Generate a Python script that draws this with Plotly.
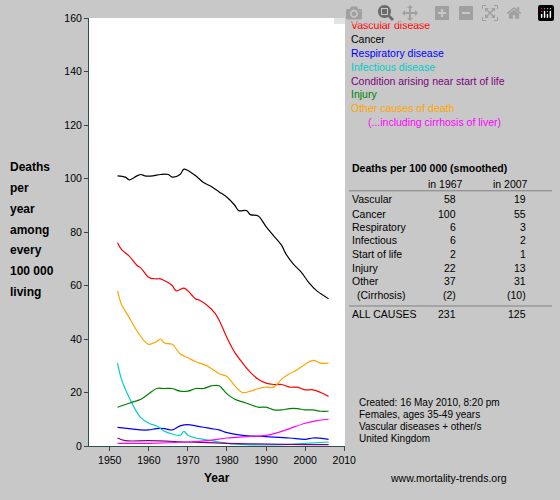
import plotly.graph_objects as go

cancer_x = [1952,1954,1955,1957,1958,1959,1961,1963,1965,1966,1968,1969,1970,1972,1974,1976,1978,1980,1982,1983,1985,1986,1988,1990,1992,1994,1995,1997,1999,2001,2003,2005,2006]
cancer_y = [101,100.5,99.5,101,101.5,101,101,101.5,101.5,100.5,101.5,103.5,103,101,98.5,97,95,93,90,88,88,86.5,86,82,78.5,75,72,68,65,61,58,56,55]
vasc_x = [1952,1953,1955,1957,1958,1960,1962,1963,1965,1966,1967,1969,1970,1972,1973,1975,1977,1978,1980,1982,1984,1986,1988,1990,1992,1994,1996,1998,2000,2002,2004,2006]
vasc_y = [76,73.5,71,67.5,66.5,63,62.5,62.5,61,60,58,59,58,55,54.5,52.5,49.5,47,40.5,35,31,27.5,25,23.5,23,23,22,22,21,21,20,18.5]
other_x = [1952,1953,1955,1957,1959,1960,1962,1963,1964,1966,1968,1970,1972,1974,1976,1978,1980,1982,1984,1986,1988,1990,1992,1994,1996,1998,2000,2002,2004,2006]
other_y = [58,53,48,43,39,38,39,40,38.5,38,34.5,33,31.5,30.5,29,27,26,22.5,20,20.5,21.5,22,22,25,27,28.5,30.5,32,31,31]
inj_x = [1952,1954,1956,1958,1960,1962,1964,1966,1968,1970,1972,1974,1976,1978,1980,1982,1984,1986,1988,1990,1992,1994,1996,1998,2000,2002,2004,2006]
inj_y = [14.5,15.5,16.5,17.5,19.5,21.5,21.5,21.5,20.5,20.5,21.5,21.5,22.5,22.5,19.5,17.5,16.5,15.5,14.5,14.5,13.5,13.5,14,14,13.5,13.5,13,13]
inf_x = [1952,1953,1955,1957,1958,1960,1962,1964,1966,1968,1969,1970,1972,1974,1976,1978,1980,1985,1995,2000,2006]
inf_y = [31,25,18,12.5,10.5,8.5,7.5,5.5,4.5,4,5.5,4,3,2.5,2,1.5,1,0.5,0.5,1,1.5]
resp_x = [1952,1955,1958,1960,1962,1964,1966,1968,1970,1972,1974,1976,1978,1980,1984,1990,1996,2000,2002,2006]
resp_y = [7,6.5,6,6,6.5,6.5,6,7.5,8,7.5,7,6.5,6,5,4,3.5,3,2.5,3,2.5]
sol_x = [1952,1954,1960,1970,1980,2006]
sol_y = [3,2,2,1.5,1,0.5]
cirr_x = [1952,1960,1970,1975,1980,1985,1990,1993,1996,2000,2003,2006]
cirr_y = [1,1,1.5,2,3,3.5,4,5,6.5,8.5,9.5,10]

series = [
    ("Vascular disease", vasc_x, vasc_y, "#ff0000"),
    ("Cancer", cancer_x, cancer_y, "#000000"),
    ("Respiratory disease", resp_x, resp_y, "#0000ff"),
    ("Infectious disease", inf_x, inf_y, "#00cccc"),
    ("Condition arising near start of life", sol_x, sol_y, "#800080"),
    ("Injury", inj_x, inj_y, "#008000"),
    ("Other causes of death", other_x, other_y, "#ffa500"),
    ("(...including cirrhosis of liver)", cirr_x, cirr_y, "#ff00ff"),
]

table_labels = ["Vascular","Cancer","Respiratory","Infectious","Start of life","Injury","Other","(Cirrhosis)"]
v1967 = ["58","100","6","6","2","22","37","(2)"]
v2007 = ["19","55","3","2","1","13","31","(10)"]
total_1967, total_2007 = "231", "125"

L, R, T, B = 89, 215, 15, 54
W, H = 560, 500
pw, ph = W - L - R, H - T - B
px = lambda x: (x - L) / pw
py = lambda y: (H - B - y) / ph

fig = go.Figure()
for name, xs, ys, c in series:
    fig.add_trace(go.Scatter(x=xs, y=ys, mode="lines", line=dict(color=c, width=1.2, shape="spline"),
                             name=name, showlegend=False))

F = "Liberation Sans, Arial"
ann = []
def txt(x, y, t, size=10.5, color="#000", bold=False, xanchor="left"):
    ann.append(dict(xref="paper", yref="paper", x=px(x), y=py(y), text=("<b>%s</b>" % t) if bold else t,
                    showarrow=False, xanchor=xanchor, yanchor="middle", font=dict(family=F, size=size, color=color)))

for i, (name, _, _, c) in enumerate(series):
    txt(366 if i == 7 else 349, 22 + 14 * i, name, color=c)

txt(350, 166, "Deaths per 100 000 (smoothed)", bold=True)
txt(465, 182, "in 1967", xanchor="right")
txt(530, 182, "in 2007", xanchor="right")
rows_y = [197, 212, 225, 239, 253, 267, 280, 294]
for lab, a, b, y in zip(table_labels, v1967, v2007, rows_y):
    txt(350 if not lab.startswith("(") else 355, y, lab)
    txt(458, y, a, xanchor="right")
    txt(528, y, b, xanchor="right")
txt(350, 313, "ALL CAUSES")
txt(458, 313, total_1967, xanchor="right")
txt(528, 313, total_2007, xanchor="right")

for i, t in enumerate(["Created: 16 May 2010, 8:20 pm", "Females, ages 35-49 years", "Vascular diseases + other/s", "United Kingdom"]):
    txt(357, 402 + 12 * i, t, size=10)
txt(388, 478, "www.mortality-trends.org", size=10.5)
txt(217, 478, "Year", size=12, bold=True, xanchor="center")
for i, t in enumerate(["Deaths", "per", "year", "among", "every", "100 000", "living"]):
    txt(8, 165 + 21 * i, t, size=12, bold=True)

shapes = [dict(type="line", xref="paper", yref="paper", x0=px(349), x1=px(552), y0=py(y), y1=py(y),
               line=dict(color="#808080", width=1)) for y in (189, 305)]

fig.update_layout(
    width=W, height=H, margin=dict(l=L, r=R, t=T, b=B),
    paper_bgcolor="#c8c8c8", plot_bgcolor="#ffffff",
    annotations=ann, shapes=shapes, showlegend=False,
    xaxis=dict(range=[1944.7, 2010.2], tickvals=list(range(1950, 2011, 10)), ticks="outside", ticklen=4,
               showgrid=False, zeroline=False, showline=True, linecolor="#2f4f4f", mirror=False,
               tickfont=dict(family=F, size=10.5, color="#000")),
    yaxis=dict(range=[0, 160], tickvals=list(range(0, 161, 20)), ticks="outside", ticklen=4,
               showgrid=False, zeroline=False, showline=True, linecolor="#2f4f4f",
               tickfont=dict(family=F, size=10.5, color="#000")),
)
fig.write_html("out.html", post_script="document.body.style.margin='0';document.body.style.background='#c8c8c8';")
